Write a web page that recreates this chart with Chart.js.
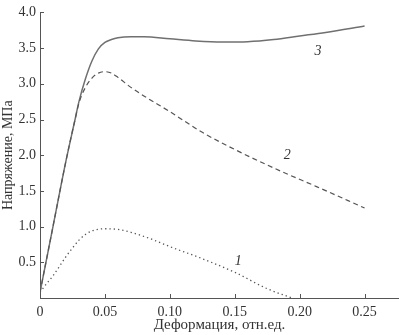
<!DOCTYPE html>
<html>
<head>
<meta charset="utf-8">
<script src="https://cdn.jsdelivr.net/npm/chart.js@4.4.1/dist/chart.umd.min.js"></script>
<style>
  html, body { margin: 0; padding: 0; background: #fff; }
  #wrap { width: 399px; height: 335px; }
</style>
</head>
<body>
<div id="wrap"><canvas id="chart" width="399" height="335"></canvas></div>
<script>
// деформация, отн.ед. / напряжение, МПа
const strain1 = [0, 0.005, 0.01, 0.02, 0.025, 0.03, 0.035, 0.04, 0.05, 0.06, 0.07, 0.085, 0.10, 0.125, 0.15, 0.175, 0.194];
const stress1 = [0.08, 0.2, 0.31, 0.58, 0.7, 0.81, 0.89, 0.94, 0.97, 0.96, 0.92, 0.83, 0.72, 0.55, 0.36, 0.13, 0.0];

const strain2 = [0, 0.01, 0.02, 0.027, 0.03, 0.035, 0.04, 0.045, 0.05, 0.055, 0.06, 0.07, 0.08, 0.10, 0.125, 0.15, 0.185, 0.213, 0.25];
const stress2 = [0.08, 1.0, 1.92, 2.5, 2.73, 2.95, 3.08, 3.15, 3.17, 3.15, 3.09, 2.95, 2.83, 2.61, 2.32, 2.08, 1.78, 1.56, 1.26];

const strain3 = [0, 0.01, 0.02, 0.027, 0.03, 0.035, 0.04, 0.045, 0.05, 0.055, 0.06, 0.07, 0.08, 0.10, 0.12, 0.14, 0.16, 0.18, 0.20, 0.22, 0.25];
const stress3 = [0.08, 1.0, 1.92, 2.5, 2.75, 3.07, 3.32, 3.49, 3.58, 3.62, 3.645, 3.66, 3.66, 3.63, 3.6, 3.585, 3.59, 3.62, 3.67, 3.72, 3.81];

const curveLabels = ['1', '2', '3'];
const labelX = [0.1527, 0.1904, 0.2142];
const labelY = [0.52, 2.0, 3.46];

const xTicks = [0, 0.05, 0.10, 0.15, 0.20, 0.25];
const yTicks = [0.5, 1.0, 1.5, 2.0, 2.5, 3.0, 3.5, 4.0];

const serif = '"Liberation Serif", "DejaVu Serif", serif';
const axisColor = '#555';
const textColor = '#333';

function toPoints(xs, ys) {
    return xs.map((x, i) => ({ x: x, y: ys[i] }));
}

// короткие засечки внутрь области графика + подписи кривых
const innerTicks = {
    id: 'innerTicks',
    afterDraw(chart) {
        const ctx = chart.ctx;
        const xs = chart.scales.x, ys = chart.scales.y;
        const area = chart.chartArea;
        ctx.save();
        ctx.strokeStyle = axisColor;
        ctx.lineWidth = 1;
        ctx.beginPath();
        xTicks.forEach(v => {
            if (v === 0) return;
            const px = Math.round(xs.getPixelForValue(v)) + 0.5;
            ctx.moveTo(px, area.bottom);
            ctx.lineTo(px, area.bottom - 4);
        });
        yTicks.forEach(v => {
            const py = Math.round(ys.getPixelForValue(v)) + 0.5;
            ctx.moveTo(area.left, py);
            ctx.lineTo(area.left + 4, py);
        });
        ctx.stroke();

        ctx.fillStyle = textColor;
        ctx.font = 'italic 14px ' + serif;
        ctx.textAlign = 'center';
        ctx.textBaseline = 'middle';
        curveLabels.forEach((t, i) => {
            ctx.fillText(t, xs.getPixelForValue(labelX[i]), ys.getPixelForValue(labelY[i]));
        });
        ctx.restore();
    }
};

const ctx = document.getElementById('chart').getContext('2d');
new Chart(ctx, {
    type: 'line',
    data: {
        datasets: [
            {
                label: '1',
                data: toPoints(strain1, stress1),
                borderColor: '#555',
                borderWidth: 1.3,
                borderDash: [1.3, 3],
                pointRadius: 0,
                cubicInterpolationMode: 'monotone'
            },
            {
                label: '2',
                data: toPoints(strain2, stress2),
                borderColor: '#555',
                borderWidth: 1.2,
                borderDash: [5, 3.5],
                pointRadius: 0,
                cubicInterpolationMode: 'monotone'
            },
            {
                label: '3',
                data: toPoints(strain3, stress3),
                borderColor: '#707070',
                borderWidth: 1.5,
                pointRadius: 0,
                cubicInterpolationMode: 'monotone'
            }
        ]
    },
    options: {
        responsive: false,
        animation: false,
        layout: { padding: { top: 7, right: 0, left: 0, bottom: 0 } },
        plugins: {
            legend: { display: false },
            tooltip: { enabled: false }
        },
        scales: {
            x: {
                type: 'linear',
                min: 0,
                max: 0.2765,
                grid: { display: false, drawTicks: false },
                border: { display: true, color: axisColor, width: 1 },
                afterBuildTicks: s => { s.ticks = xTicks.map(v => ({ value: v })); },
                afterFit: s => { s.height = 37; },
                ticks: {
                    color: textColor,
                    font: { family: serif, size: 14 },
                    padding: 6,
                    maxRotation: 0,
                    callback: v => v === 0 ? '0' : v.toFixed(2)
                },
                title: {
                    display: true,
                    text: 'Деформация, отн.ед.',
                    color: textColor,
                    font: { family: serif, size: 15 },
                    padding: { top: 0, bottom: 1 }
                }
            },
            y: {
                type: 'linear',
                min: 0,
                max: 4.0,
                grid: { display: false, drawTicks: false },
                border: { display: true, color: axisColor, width: 1 },
                afterBuildTicks: s => { s.ticks = yTicks.map(v => ({ value: v })); },
                afterFit: s => { s.width = 40; },
                ticks: {
                    color: textColor,
                    font: { family: serif, size: 14 },
                    padding: 4,
                    callback: v => v.toFixed(1)
                },
                title: {
                    display: true,
                    text: 'Напряжение, МПа',
                    color: textColor,
                    font: { family: serif, size: 14 },
                    padding: { top: 0, bottom: 0 }
                }
            }
        }
    },
    plugins: [innerTicks]
});
</script>
</body>
</html>
